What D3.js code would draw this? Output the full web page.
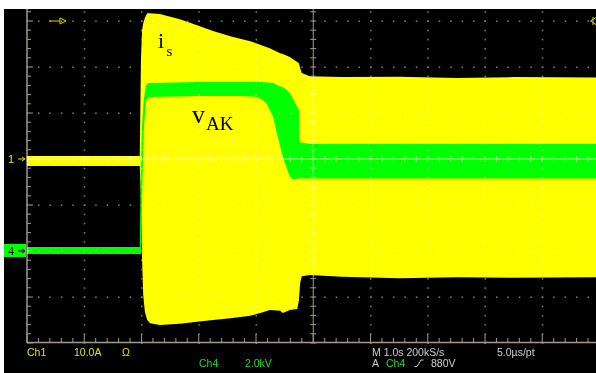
<!DOCTYPE html>
<html>
<head>
<meta charset="utf-8">
<script src="https://cdn.jsdelivr.net/npm/d3@7"></script>
<style>
  html, body { margin: 0; padding: 0; background: #fff; }
  svg { display: block; }
  .grid { mix-blend-mode: lighten; }
</style>
</head>
<body>
<svg width="596" height="373"></svg>
<script>
// time in divisions (10 div across the screen)
const ch1Time  = [0, 1.97, 1.99, 2.01, 2.03, 2.06, 2.10, 2.15, 2.32, 2.67, 2.97, 3.25, 3.55, 3.90, 4.12, 4.24, 4.42, 4.47, 4.59, 4.72, 4.75, 4.77, 4.80, 4.94, 5.5, 6.5, 7.5, 8.5, 10];
// Ch1 (i_s) envelope, amps
const ch1Upper = [0.65, 0.65, 21.5, 28.0, 29.5, 30.7, 31.7, 31.7, 31.5, 30.4, 29.1, 27.8, 26.7, 25.6, 24.6, 24.1, 23.0, 22.8, 22.2, 21.1, 20.8, 19.8, 18.7, 18.0, 17.8, 17.9, 17.6, 17.8, 17.7];
const ch1Lower = [-1.52, -1.52, -8.9, -21.9, -29.6, -33.3, -35.0, -35.7, -36.1, -35.8, -35.4, -35.0, -34.6, -34.1, -33.3, -32.8, -33.0, -33.5, -32.8, -32.6, -30.7, -27.0, -25.5, -25.2, -25.6, -25.9, -25.7, -25.8, -25.7];

const ch4Time  = [0, 1.97, 1.99, 2.01, 2.04, 2.08, 2.12, 3.02, 3.72, 4.02, 4.10, 4.19, 4.30, 4.38, 4.47, 4.56, 4.59, 4.63, 4.68, 4.75, 4.76, 4.94, 10];
// Ch4 (v_AK) envelope, kV
const ch4Upper = [0.17, 0.17, 3.96, 5.48, 6.57, 7.22, 7.30, 7.35, 7.35, 7.35, 7.35, 7.33, 7.30, 7.20, 7.13, 6.95, 6.87, 6.70, 6.43, 6.13, 4.74, 4.65, 4.65];
const ch4Lower = [-0.13, -0.13, -0.13, 2.22, 5.26, 6.57, 6.70, 6.74, 6.74, 6.70, 6.60, 6.39, 5.83, 4.96, 4.09, 3.43, 3.25, 3.13, 3.13, 3.15, 3.15, 3.15, 3.15];

const hDivs = d3.range(0, 11);
const vDivs = d3.range(-4, 5);

const statusLine1 = [
  { text: "Ch1", x: 27, color: "#e4e400" },
  { text: "10.0A", x: 74, color: "#e4e400" },
  { text: "\u03A9", x: 122, color: "#e4e400" },
  { text: "M 1.0s 200kS/s", x: 372, color: "#d0d0d0" },
  { text: "5.0\u00B5s/pt", x: 497, color: "#d0d0d0" }
];
const statusLine2 = [
  { text: "Ch4", x: 199, color: "#18e018" },
  { text: "2.0kV", x: 245, color: "#18e018" },
  { text: "A", x: 372, color: "#d0d0d0" },
  { text: "Ch4", x: 386, color: "#18e018" },
  { text: "880V", x: 431, color: "#d0d0d0" }
];

const svg = d3.select("svg");

const x = d3.scaleLinear().domain([0, 10]).range([27, 599.5]);
const gy = d3.scaleLinear().domain([-4, 4]).range([343, -25]);
const y1 = d3.scaleLinear().domain([-40, 40]).range([343, -25]);   // 10 A/div
const y4 = d3.scaleLinear().domain([-4, 12]).range([343, -25]);    // 2 kV/div

// screen
svg.append("rect").attr("x", 4).attr("y", 9).attr("width", 592).attr("height", 364).attr("fill", "#000");

svg.append("clipPath").attr("id", "plot")
  .append("rect").attr("x", 27).attr("y", 9).attr("width", 569).attr("height", 334);

const traces = svg.append("g").attr("clip-path", "url(#plot)");

const area1 = d3.area()
  .x((d, i) => x(ch1Time[i]))
  .y0((d, i) => y1(ch1Lower[i]))
  .y1((d, i) => y1(ch1Upper[i]));
const area4 = d3.area()
  .x((d, i) => x(ch4Time[i]))
  .y0((d, i) => y4(ch4Lower[i]))
  .y1((d, i) => y4(ch4Upper[i]));

traces.append("path").attr("d", area1(ch1Time)).attr("fill", "#ffff00");
traces.append("path").attr("d", area4(ch4Time)).attr("fill", "#00ff00");

// graticule
const grid = svg.append("g").attr("class", "grid").attr("clip-path", "url(#plot2)");
svg.append("clipPath").attr("id", "plot2")
  .append("rect").attr("x", 4).attr("y", 9).attr("width", 592).attr("height", 340);

const gridColor = "#a29a86";
const dotColor = "#858272";
const minorX = d3.range(0, 10.01, 0.2);
const minorY = d3.range(-4, 4.01, 0.2);

// dotted rows and columns
hDivs.filter(d => d !== 0 && d !== 5 && d !== 10).forEach(d => {
  grid.selectAll(null).data(minorY).enter().append("rect")
    .attr("x", x(d) - 0.5).attr("y", v => gy(v) - 0.5)
    .attr("width", 1.5).attr("height", 1.5).attr("fill", dotColor);
});
vDivs.filter(d => d !== 0 && d !== -4 && d !== 4).forEach(d => {
  grid.selectAll(null).data(minorX).enter().append("rect")
    .attr("x", v => x(v) - 0.5).attr("y", gy(d) - 0.5)
    .attr("width", 1.5).attr("height", 1.5).attr("fill", dotColor);
});

// center cross
grid.append("line").attr("x1", x(5)).attr("x2", x(5)).attr("y1", 9).attr("y2", gy(-4))
  .attr("stroke", gridColor).attr("stroke-width", 1);
grid.append("line").attr("x1", x(0)).attr("x2", 596).attr("y1", gy(0)).attr("y2", gy(0))
  .attr("stroke", gridColor).attr("stroke-width", 1);
grid.selectAll(null).data(minorY).enter().append("line")
  .attr("x1", x(5) - 3).attr("x2", x(5) + 3).attr("y1", d => gy(d)).attr("y2", d => gy(d))
  .attr("stroke", gridColor);
grid.selectAll(null).data(minorX).enter().append("line")
  .attr("x1", d => x(d)).attr("x2", d => x(d)).attr("y1", gy(0) - 3).attr("y2", gy(0) + 3)
  .attr("stroke", gridColor);

// left and bottom border with ticks
grid.append("line").attr("x1", x(0)).attr("x2", x(0)).attr("y1", 9).attr("y2", gy(-4))
  .attr("stroke", gridColor).attr("stroke-width", 1.5);
grid.append("line").attr("x1", x(0)).attr("x2", 596).attr("y1", gy(-4) - 0.5).attr("y2", gy(-4) - 0.5)
  .attr("stroke", gridColor).attr("stroke-width", 1.5);
grid.selectAll(null).data(minorY).enter().append("line")
  .attr("x1", x(0)).attr("x2", d => x(0) + (Math.abs(d % 1) < 0.01 ? 6 : 4))
  .attr("y1", d => gy(d)).attr("y2", d => gy(d))
  .attr("stroke", gridColor);
grid.selectAll(null).data(minorX).enter().append("line")
  .attr("x1", d => x(d)).attr("x2", d => x(d))
  .attr("y1", gy(-4)).attr("y2", d => gy(-4) - (Math.abs(d % 1) < 0.01 ? 9 : 5))
  .attr("stroke", gridColor);

// trace labels
const lab = svg.append("g").attr("font-family", "'Liberation Serif', 'Times New Roman', serif").attr("fill", "#000");
lab.append("text").attr("x", 158).attr("y", 48).attr("font-size", 22).text("i");
lab.append("text").attr("x", 166.5).attr("y", 56).attr("font-size", 15).text("s");
lab.append("text").attr("x", 192).attr("y", 123).attr("font-size", 26).text("v");
lab.append("text").attr("x", 206).attr("y", 130).attr("font-size", 19).text("AK");

// channel markers
const mk = svg.append("g").attr("font-family", "'Liberation Sans', Arial, sans-serif").attr("font-size", 11);
mk.append("text").attr("x", 8).attr("y", y1(0) + 4).attr("fill", "#e4e400").text("1");
mk.append("path").attr("d", `M18,${y1(0)}H24M22,${y1(0) - 2}L25,${y1(0)}L22,${y1(0) + 2}`)
  .attr("stroke", "#e4e400").attr("fill", "none");
mk.append("rect").attr("x", 4).attr("y", y4(0) - 7).attr("width", 22).attr("height", 13).attr("fill", "#00ff00");
mk.append("text").attr("x", 8).attr("y", y4(0) + 4).attr("fill", "#000").text("4");
mk.append("path").attr("d", `M18,${y4(0)}H24M22,${y4(0) - 2}L25,${y4(0)}L22,${y4(0) + 2}`)
  .attr("stroke", "#000").attr("fill", "none");

// trigger position markers
mk.append("path").attr("d", "M49,21H60M60,18L66,21L60,24Z").attr("stroke", "#d8d800").attr("fill", "none");
mk.append("path").attr("d", "M596,17.5L590.5,21L596,24.5M593,17V25").attr("stroke", "#d8d800").attr("fill", "none");

// status lines
const st = svg.append("g").attr("font-family", "'Liberation Sans', Arial, sans-serif").attr("font-size", 10.5);
st.selectAll(null).data(statusLine1).enter().append("text")
  .attr("x", d => d.x).attr("y", 356).attr("fill", d => d.color).text(d => d.text);
st.selectAll(null).data(statusLine2).enter().append("text")
  .attr("x", d => d.x).attr("y", 367).attr("fill", d => d.color).text(d => d.text);
st.append("path").attr("d", "M414.5,366.5H417L421,360H423.5").attr("stroke", "#d0d0d0").attr("fill", "none");
</script>
</body>
</html>
